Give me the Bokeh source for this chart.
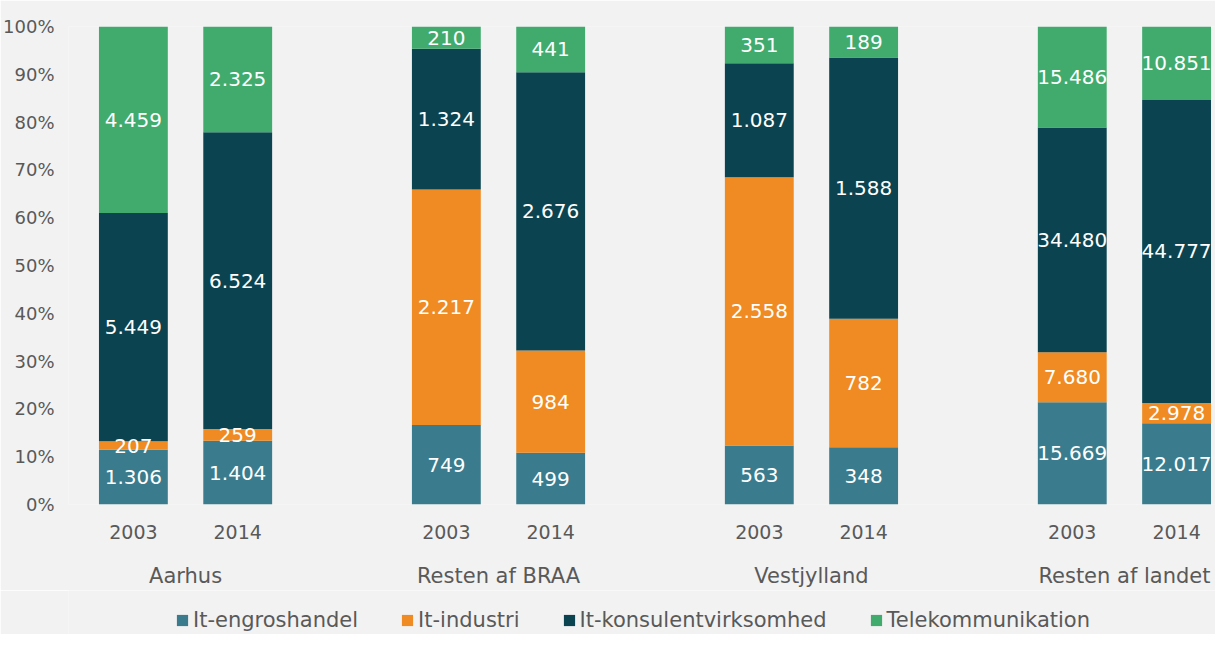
from bokeh.plotting import figure
from bokeh.layouts import column
from bokeh.models import ColumnDataSource, Range1d, FixedTicker, LinearAxis, Legend, LegendItem, NumeralTickFormatter
from bokeh.core.properties import value
from bokeh.embed import file_html
from bokeh.resources import INLINE

regions = ["Aarhus", "Resten af BRAA", "Vestjylland", "Resten af landet"]
years = ["2003", "2014"]
series = ["It-engroshandel", "It-industri", "It-konsulentvirksomhed", "Telekommunikation"]
colors = ["#3a7c8d", "#ef8b22", "#0b4450", "#41ab6e"]

# order: Aarhus 2003, Aarhus 2014, BRAA 2003, BRAA 2014, Vest 2003, Vest 2014, Landet 2003, Landet 2014
engros = [1306, 1404, 749, 499, 563, 348, 15669, 12017]
industri = [207, 259, 2217, 984, 2558, 782, 7680, 2978]
konsulent = [5449, 6524, 1324, 2676, 1087, 1588, 34480, 44777]
telekom = [4459, 2325, 210, 441, 351, 189, 15486, 10851]
y_ticks = [0.0, 0.1, 0.2, 0.3, 0.4, 0.5, 0.6, 0.7, 0.8, 0.9, 1.0]

FONT = value("DejaVu Sans")
GREY = "#595959"
BG = "#f2f2f2"

values = [engros, industri, konsulent, telekom]
keys = ["s0", "s1", "s2", "s3"]
xs = []
for gi in range(len(regions)):
    for yi in range(len(years)):
        xs.append(gi * 3 + yi)
totals = [sum(v[i] for v in values) for i in range(len(xs))]
data = {"x": xs}
for k, v in zip(keys, values):
    data[k] = [v[i] / totals[i] for i in range(len(xs))]
src = ColumnDataSource(data)

# label positions (segment centres)
lx, ly, lt = [], [], []
for i in range(len(xs)):
    cum = 0.0
    for v in values:
        share = v[i] / totals[i]
        lx.append(xs[i])
        ly.append(cum + share / 2)
        lt.append(f"{v[i]:,}".replace(",", "."))
        cum += share
lsrc = ColumnDataSource(dict(x=lx, y=ly, t=lt))

p = figure(width=1215, height=590, output_backend="svg", toolbar_location=None,
           x_range=Range1d(-0.622, 10.373), y_range=Range1d(0, 1),
           min_border_left=66, min_border_right=0, min_border_top=26, min_border_bottom=84,
           background_fill_color=BG, border_fill_color=BG, outline_line_color=None,
           x_axis_location=None)
p.xgrid.visible = False
p.ygrid.visible = False

rs = p.vbar_stack(keys, x="x", width=0.66, color=colors, line_color=None, source=src)

p.text(x="x", y="y", text="t", source=lsrc, text_align="center", text_baseline="middle",
       text_color="white", text_font=FONT, text_font_size="20px")

ya = p.yaxis[0]
ya.ticker = FixedTicker(ticks=y_ticks)
ya.formatter = NumeralTickFormatter(format="0%")
ya.axis_line_color = None
ya.major_tick_line_color = None
ya.minor_tick_line_color = None
ya.major_label_text_font = "DejaVu Sans"
ya.major_label_text_font_size = "18px"
ya.major_label_text_color = GREY
ya.major_label_standoff = 8

ax1 = LinearAxis(ticker=FixedTicker(ticks=xs),
                 major_label_overrides={x: years[i % 2] for i, x in enumerate(xs)})
ax2 = LinearAxis(ticker=FixedTicker(ticks=[gi * 3 + 0.5 for gi in range(len(regions))]),
                 major_label_overrides={gi * 3 + 0.5: r for gi, r in enumerate(regions)})
for ax, size, stand in ((ax1, "19px", 14), (ax2, "21px", 16)):
    ax.axis_line_color = None
    ax.major_tick_line_color = None
    ax.minor_tick_line_color = None
    ax.major_label_text_font = "DejaVu Sans"
    ax.major_label_text_font_size = size
    ax.major_label_text_color = GREY
    ax.major_label_standoff = stand
    p.add_layout(ax, "below")

# legend strip below the chart (its bar renderers lie far outside its view; only the legend shows)
lf = figure(width=1215, height=44, output_backend="svg", toolbar_location=None,
            x_range=Range1d(-200, -199), y_range=Range1d(0, 1),
            min_border_left=66, min_border_right=0, min_border_top=0, min_border_bottom=0,
            background_fill_color=BG, border_fill_color=BG, outline_line_color=None,
            x_axis_location=None, y_axis_location=None)
lf.xgrid.visible = False
lf.ygrid.visible = False
lrs = lf.vbar_stack(keys, x="x", width=0.66, color=colors, line_color=None, source=src)
legend = Legend(items=[LegendItem(label=s, renderers=[r]) for s, r in zip(series, lrs)],
                orientation="horizontal", location=(107, 2),
                glyph_width=14, glyph_height=14, label_standoff=4, spacing=42,
                label_text_font="DejaVu Sans", label_text_font_size="21px",
                label_text_color=GREY, background_fill_alpha=0, border_line_alpha=0,
                padding=0, margin=0)
lf.add_layout(legend, "center")

layout = column(p, lf, spacing=0)
html = file_html(layout, INLINE)
html = html.replace("<body>", '<body style="background:#f2f2f2">', 1)
open("out.html", "w").write(html)
